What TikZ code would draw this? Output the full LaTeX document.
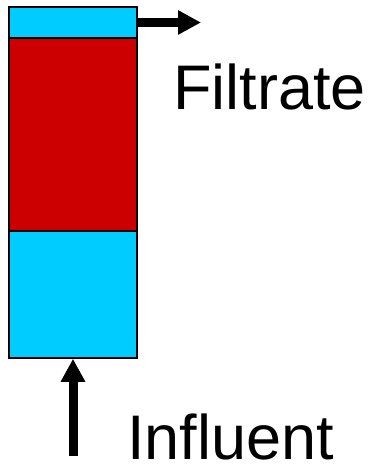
\documentclass[tikz,border=0pt]{standalone}
\usepackage{fontspec}
\setmainfont{Liberation Sans}
\usetikzlibrary{arrows.meta}
\definecolor{water}{RGB}{0,204,255}
\definecolor{media}{RGB}{204,0,0}

\begin{document}
\begin{tikzpicture}[x=1pt, y=-1pt,
    layer/.style={draw=black, line width=1.5pt, inner sep=0pt, minimum width=128pt},
    flow/.style={line width=9pt, -{Triangle[length=23pt, width=23pt]}},
    label/.style={anchor=base west, inner sep=0pt, font=\fontsize{63}{63}\selectfont}]
  \useasboundingbox (0,0) rectangle (370,465);

  % Column layers
  \node[layer, fill=water, minimum height=31pt] (top) at (73,22.5) {};
  \node[layer, fill=media, minimum height=193pt] (bed) at (73,134.5) {};
  \node[layer, fill=water, minimum height=127pt] (bottom) at (73,294.5) {};

  % Flow in and out
  \coordinate (out) at (201,22.5);
  \coordinate (in) at (73,456);
  \draw[flow] (top.east) -- (out);
  \draw[flow] (in) -- (bottom.south);

  % Labels
  \node[label] (filtrate) at (173,110) {Filtrate};
  \node[label] (influent) at (127,459) {Influent};
\end{tikzpicture}
\end{document}
